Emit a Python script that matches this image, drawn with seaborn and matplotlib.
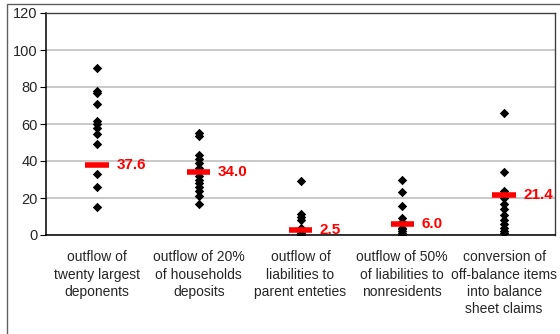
import numpy as np
import pandas as pd
import matplotlib
matplotlib.use('Agg')
import matplotlib.pyplot as plt
import seaborn as sns
from matplotlib.patches import Rectangle

# Categories (x axis)
categories = [
    'outflow of\ntwenty largest\ndeponents',
    'outflow of 20%\nof households\ndeposits',
    'outflow of\nliabilities to\nparent enteties',
    'outflow of 50%\nof liabilities to\nnonresidents',
    'conversion of\noff-balance items\ninto balance\nsheet claims',
]

# Individual bank results per scenario
twenty_largest = [90.5, 78, 76.5, 71, 61.5, 60, 58, 54.5, 49, 33, 26, 15]
households = [55, 53.5, 43, 41, 39, 36, 32, 30, 28, 26, 24, 21, 17]
parent = [29, 11.5, 10, 8, 4, 1, 0, 0]
nonresidents = [30, 23.5, 15.5, 9, 7, 4, 3, 2, 1, 0]
off_balance = [66, 34, 24, 20, 17, 14, 11, 8, 6, 4, 2, 1]

# Averages (red bars)
averages = [37.6, 34.0, 2.5, 6.0, 21.4]

series = [twenty_largest, households, parent, nonresidents, off_balance]
df = pd.DataFrame({
    'category': [c for c, s in zip(categories, series) for _ in s],
    'value': [v for s in series for v in s],
})

sns.set_style('white')
plt.rcParams['font.family'] = ['Liberation Sans', 'DejaVu Sans']

fig = plt.figure(figsize=(5.6, 3.34), dpi=100)
ax = fig.add_axes([46 / 560, 99 / 334, 509 / 560, 222 / 334])

sns.stripplot(data=df, x='category', y='value', order=categories,
              jitter=False, marker='D', color='black', size=4.8,
              linewidth=0, ax=ax, zorder=3)

# red bars with average value
x = np.arange(len(categories))
ax.hlines(averages, x - 0.115, x + 0.115, colors='red', lw=4, zorder=4)
for xi, avg in zip(x, averages):
    ax.text(xi + 0.19, avg, f'{avg:.1f}', color='red', fontweight='bold',
            fontsize=11, va='center', ha='left', zorder=5, clip_on=False)

ax.set_ylim(0, 120)
ax.set_yticks(range(0, 121, 20))
ax.set_xlim(-0.5, len(categories) - 0.5)
ax.set_xticks(x)
ax.set_xticklabels(categories, fontsize=10, linespacing=1.3)
ax.set_xticks(np.arange(-0.5, len(categories)), minor=True)
ax.tick_params(axis='x', which='major', length=0, pad=11)
ax.tick_params(axis='x', which='minor', length=4, direction='out', color='black')
ax.tick_params(axis='y', length=4, direction='out', labelsize=10.5, pad=2, color='black', left=True)
ax.set_xlabel('')
ax.set_ylabel('')

ax.yaxis.grid(True, color='#c0c0c0', lw=1.2)
ax.set_axisbelow(True)
for side in ['left', 'bottom']:
    ax.spines[side].set_color('black')
    ax.spines[side].set_linewidth(1.1)
for side in ['top', 'right']:
    ax.spines[side].set_color('#404040')
    ax.spines[side].set_linewidth(1.0)

# outer chart border
fig.patches.append(Rectangle((7 / 560, -0.1), 1, (330 / 334) + 0.1,
                             transform=fig.transFigure, fill=False,
                             edgecolor='#606060', lw=1))

fig.savefig('out.png', dpi=100)
